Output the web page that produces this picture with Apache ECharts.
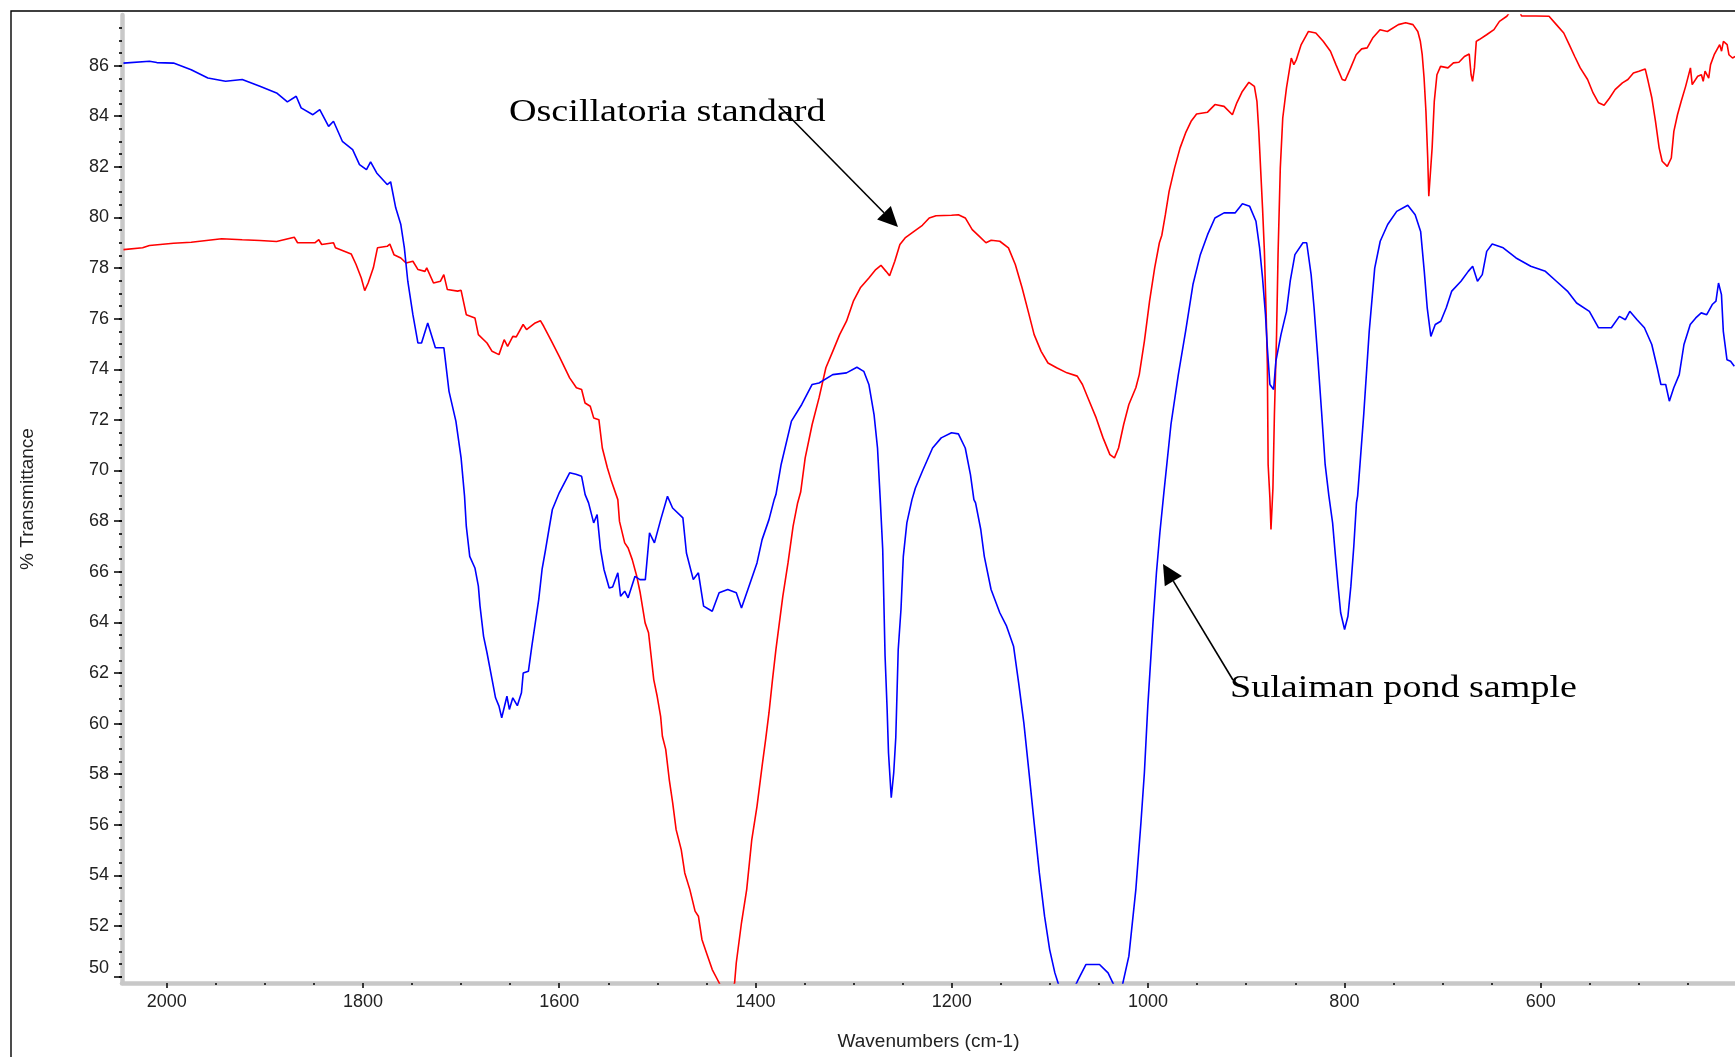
<!DOCTYPE html>
<html>
<head>
<meta charset="utf-8">
<script src="https://cdn.jsdelivr.net/npm/echarts@6/dist/echarts.min.js"></script>
<style>
html,body{margin:0;padding:0;background:#fff;}
#chart{width:1735px;height:1057px;}
</style>
</head>
<body>
<div id="chart"></div>
<script>
// ---- Data (wavenumber cm-1, % transmittance) ----
const redWn = [2044,2024.5,2017.5,1993,1975,1944,1923,1905,1888,1870,1866.6,1849,1845,1842,1830,1828,1812,1807,1801.7,1798.2,1794.7,1789.4,1785.2,1775.3,1772.6,1768.4,1761.4,1756.1,1749.1,1743.9,1736.8,1735,1728.1,1721,1717.6,1714,1703.5,1700,1694.7,1685.9,1682.4,1673.6,1668.4,1661.4,1656.1,1652.6,1647.3,1643.8,1636.8,1633.3,1624.5,1619.2,1615.8,1608.7,1600,1589.4,1582.5,1577.2,1573.7,1568.4,1564.9,1559.6,1556.1,1550.9,1547.3,1540.3,1538.6,1533.3,1529.8,1525.6,1521,1517.5,1512.5,1509,1503.7,1500.2,1496.7,1494.9,1491.5,1487.9,1484.4,1480.9,1475.7,1472.1,1466.9,1461.6,1458.2,1454.6,1449.4,1444.1,1437.1,1432,1425,1421.3,1419.6,1414.3,1409,1403.8,1398.5,1393.3,1389.7,1386.3,1382.7,1379.2,1375.7,1372.2,1366.9,1361.7,1357.1,1354,1349.4,1342.3,1335.3,1328.3,1321.3,1314.3,1307.3,1300.3,1293.2,1284.5,1277.5,1272.2,1267,1263.4,1258.1,1252.9,1247.6,1240.6,1230,1223,1216.1,1200.3,1193.3,1186.3,1179.2,1172.2,1165.2,1159.9,1151.1,1142.3,1135.3,1128.4,1121.3,1116.1,1109,1102,1093.2,1082.7,1072.2,1066.9,1059.9,1052.9,1045.9,1038.9,1034.3,1030.1,1024.9,1019.6,1012.5,1009,1003.8,998.5,993.3,988.5,986,982.4,978.6,973,967.4,961.8,956.2,950.6,939.4,931.9,922.6,914.1,909.6,904,897.3,891.7,889.1,887.2,885.4,883.4,881.5,879.7,878.5,877.7,875.9,874.8,872.8,871.3,869.1,867.6,865.3,862.8,859,854.1,851.5,848.9,844,836.6,829.1,821.6,814.2,808.6,802.2,799.2,793.6,788,782.4,776.8,771.2,763.7,756.2,745,737.6,730.1,725.2,722.6,720.7,718.8,716.9,715.1,714,712.1,710.6,708.4,705.7,702,694.5,688.9,683.3,677.7,672.8,670.9,669.4,667.5,665.6,662.6,655.1,647.6,642,634.5,628,622,619.5,605,591.5,584,576.5,570.9,565.3,559.7,552.2,546.6,541,535.4,529.8,524.2,516.7,511.1,505.5,499.9,493.5,490.5,486.7,483,479.3,476.2,471,466.9,464.3,460.6,456.8,452.3,447.4,445.6,440,436.2,434.4,432.5,428.8,426.9,423.2,417.6,415.7,413.8,410,408.2,404.5,401.8];
const redT = [78.73,78.80,78.89,78.98,79.02,79.16,79.12,79.09,79.05,79.22,79.00,79.00,79.12,78.93,79.00,78.80,78.56,78.14,77.61,77.11,77.41,78.01,78.80,78.86,78.95,78.53,78.40,78.20,78.27,77.94,77.87,78.01,77.41,77.48,77.74,77.15,77.09,77.12,76.16,76.03,75.37,75.04,74.71,74.58,75.17,74.91,75.30,75.28,75.77,75.57,75.83,75.92,75.70,75.17,74.51,73.66,73.27,73.20,72.67,72.54,72.08,72.01,70.89,70.10,69.64,68.85,67.99,67.14,66.94,66.48,65.82,65.17,63.98,63.59,61.74,61.08,60.29,59.50,58.98,57.79,56.87,55.81,55.02,54.10,53.44,52.59,52.39,51.47,50.88,50.28,49.76,49.30,49.30,49.76,50.55,52.13,53.44,55.42,56.73,58.32,59.37,60.42,61.74,62.93,63.98,65.03,66.35,67.80,68.72,69.15,70.50,71.82,72.87,74.06,74.71,75.37,75.90,76.69,77.22,77.61,77.94,78.11,77.87,77.70,78.27,78.93,79.19,79.39,79.69,79.98,80.07,80.09,80.11,79.98,79.52,79.26,79.00,79.10,79.06,78.80,78.14,77.22,76.16,75.37,74.71,74.25,74.06,73.86,73.73,73.40,72.74,72.08,71.29,70.63,70.50,70.89,71.82,72.61,73.27,73.79,75.10,76.69,78.01,79.00,79.30,80.11,81.03,81.96,82.75,83.34,83.80,84.09,84.16,84.46,84.39,84.06,84.53,84.98,85.34,85.18,84.59,83.40,81.96,80.38,78.66,76.16,74.19,70.24,68.92,67.67,69.31,72.21,75.37,78.53,81.96,83.93,85.12,86.30,86.04,86.24,86.83,87.35,87.29,86.96,86.57,86.04,85.45,85.41,85.91,86.43,86.66,86.70,87.09,87.42,87.35,87.62,87.69,87.62,87.35,86.96,86.43,85.51,84.19,82.35,80.84,80.84,82.75,84.59,85.64,85.97,85.91,86.11,86.13,86.36,86.46,85.64,85.38,85.91,86.96,87.03,87.22,87.42,87.75,87.95,88.30,88.20,87.96,87.96,87.95,87.62,87.29,86.83,86.36,85.91,85.45,84.92,84.53,84.43,84.72,85.05,85.32,85.45,85.71,85.78,85.87,85.38,84.72,83.80,82.75,82.22,82.02,82.35,83.40,84.06,84.59,85.18,85.91,85.25,85.58,85.64,85.38,85.78,85.51,86.04,86.43,86.83,86.57,86.96,86.83,86.43,86.30,86.36];

const blueWn = [2044,2017.5,2010,1993,1975,1958,1940,1923,1905,1888,1877,1868,1863,1851,1844,1835,1830,1821,1810.5,1803.5,1796.4,1792.2,1786,1775.3,1771.8,1766.6,1761.4,1757.8,1754.3,1749.1,1744,1740.3,1734,1726.2,1717.5,1712.3,1705.3,1700,1696.5,1694.7,1691.2,1685.9,1682.4,1680.7,1677.1,1673.6,1668.4,1664.9,1661.4,1658.6,1653.3,1650.8,1647.3,1642.7,1638.5,1636.7,1631.4,1627.9,1624.4,1620.9,1617.5,1613.9,1610.5,1607,1600,1589.4,1583,1577.2,1573.6,1570.1,1564.9,1561.4,1557.9,1554.4,1549.1,1545.6,1540.3,1537.5,1533.3,1529.8,1522.8,1517.8,1512.3,1508,1503,1496.6,1489.7,1484.5,1474,1470.4,1463.4,1458.2,1452.9,1444.1,1437.1,1428.3,1419.6,1414.3,1405.5,1398.5,1393.3,1386.3,1381,1379.2,1373.9,1363.4,1352.9,1342.3,1335.3,1321.3,1307.3,1296.7,1289.7,1284.5,1279.2,1275.7,1272.9,1270.4,1268,1265.9,1264.5,1261.7,1259.2,1257.1,1254.6,1251.8,1249.4,1245.8,1240.6,1237.1,1230,1219.6,1210.8,1200.3,1193.3,1186.3,1181,1177.5,1175.8,1170.5,1166.9,1160,1151.1,1144.2,1137.1,1131.9,1126.6,1121.3,1116.1,1110.8,1105.5,1100.3,1095,1088,1082,1076,1072,1063.4,1049.5,1040.8,1034,1030,1026,1019.6,1012.5,1007.3,1003.8,1000.3,995,991.5,988,984,976.7,969.2,961.8,954.3,946.8,939.4,931.9,922.6,911.4,903.9,896.5,890.1,886.4,883.4,880.4,878.5,875.9,872.1,869.8,864.6,859,855.2,850.4,842.2,838.4,833.9,830.9,827.1,823.3,819.6,815.8,812,809.1,806.4,803.8,799.8,796.4,793.4,790.4,787.7,786.5,780.3,774.7,769.1,763.5,755.9,746.7,735.4,727.9,722.3,718.6,715.6,711.9,707.4,701.8,696.2,690.6,681.2,673.8,669.3,664.4,659.5,655,649.4,638.2,625.1,610.1,595.2,584,572.8,563.4,550.4,541,528,519.8,513.7,509.2,501.8,494.3,486.8,481.2,477.5,472.6,468.9,464.4,458.8,454,447.6,442,436.4,430.8,425.2,421.4,418.8,415.8,413.9,410.2,406.5,402.7];
const blueT = [86.10,86.17,86.12,86.10,85.84,85.51,85.38,85.45,85.18,84.92,84.57,84.79,84.33,84.06,84.26,83.60,83.80,83.01,82.68,82.09,81.89,82.20,81.76,81.30,81.41,80.38,79.72,78.80,77.48,76.16,75.04,75.04,75.83,74.85,74.85,73.13,71.95,70.50,69.00,67.80,66.61,66.15,65.43,64.64,63.45,62.80,61.74,61.02,60.69,60.23,61.08,60.56,61.02,60.71,61.22,62.00,62.07,63.06,63.98,64.90,66.09,66.88,67.67,68.46,69.12,69.91,69.85,69.77,69.05,68.72,67.93,68.26,66.88,66.09,65.36,65.40,65.96,65.03,65.23,64.97,65.82,65.69,65.69,67.54,67.14,68.06,68.98,68.52,68.13,66.74,65.69,65.96,64.64,64.44,65.17,65.30,65.17,64.57,65.56,66.35,67.27,68.06,68.85,69.05,70.24,71.95,72.61,73.40,73.46,73.79,73.86,74.08,73.92,73.40,72.20,70.89,68.85,66.88,62.67,60.56,58.84,57.07,58.05,59.44,62.93,64.51,66.61,67.93,68.85,69.31,69.97,70.89,71.29,71.49,71.45,70.89,69.84,68.85,68.72,67.67,66.61,65.30,64.38,63.85,63.06,61.61,60.03,58.05,56.08,54.10,52.39,51.07,50.15,49.30,49.20,49.50,49.82,50.48,50.48,50.15,49.60,49.50,49.70,50.81,53.44,56.08,58.05,60.69,63.98,65.96,67.54,69.10,71.82,73.79,75.50,77.35,78.53,79.32,79.98,80.18,80.18,80.54,80.44,79.85,78.80,77.61,76.16,74.85,73.40,73.20,74.32,75.37,76.29,77.48,78.53,79.00,79.00,77.74,76.43,74.45,72.35,70.24,69.00,67.93,66.61,65.43,64.38,63.72,64.24,65.43,67.01,68.72,69.00,72.21,75.50,78.00,79.06,79.72,80.24,80.48,80.11,79.45,77.87,76.43,75.30,75.77,75.90,76.43,77.09,77.48,77.87,78.07,77.48,77.74,78.66,78.95,78.80,78.40,78.07,77.87,77.48,77.09,76.62,76.29,75.64,75.64,76.09,75.96,76.29,75.96,75.64,74.98,74.06,73.40,73.40,72.74,73.27,73.79,74.98,75.77,76.03,76.23,76.16,76.56,76.69,77.41,76.95,75.50,74.38,74.32,74.12];

const xMajorTicks = [2000, 1800, 1600, 1400, 1200, 1000, 800, 600];
const yMajorTicks = [50, 52, 54, 56, 58, 60, 62, 64, 66, 68, 70, 72, 74, 76, 78, 80, 82, 84, 86];
const xMinorTicks = [];
for (let v = 450; v <= 2000; v += 50) xMinorTicks.push(v);
const yMinorTicks = [];
for (let v = 50; v <= 87.5; v += 0.5) yMinorTicks.push(v);

const seriesNames = ['Oscillatoria standard', 'Sulaiman pond sample'];

function zip(a, b) { return a.map((v, i) => [v, b[i]]); }

const SANS = '"Liberation Sans", Arial, sans-serif';
const SERIF = '"Liberation Serif", "Times New Roman", serif';
const X_MIN = 402, X_MAX = 2045.5, Y_MIN = 49.75, Y_MAX = 88;

function arrow(x1, y1, x2, y2, len, half) {
  const dx = x2 - x1, dy = y2 - y1, L = Math.sqrt(dx * dx + dy * dy);
  const ux = dx / L, uy = dy / L;
  const bx = x2 - ux * len, by = y2 - uy * len;
  const px = -uy, py = ux;
  return [
    { type: 'line', shape: { x1: x1, y1: y1, x2: bx, y2: by }, style: { stroke: '#000', lineWidth: 1.6 }, z: 100 },
    { type: 'polygon', shape: { points: [[x2, y2], [bx + px * half, by + py * half], [bx - px * half, by - py * half]] }, style: { fill: '#000' }, z: 100 }
  ];
}

const chart = echarts.init(document.getElementById('chart'), null, { renderer: 'canvas' });

const option = {
  animation: false,
  backgroundColor: '#ffffff',
  grid: { left: 122, right: 0, top: 15, bottom: 74, containLabel: false },
  xAxis: [
    {
      type: 'value', inverse: true, min: X_MIN, max: X_MAX, position: 'bottom',
      name: 'Wavenumbers (cm-1)', nameLocation: 'middle', nameGap: 49,
      nameTextStyle: { fontSize: 19, color: '#222', fontFamily: SANS },
      axisLine: { show: true, onZero: false, lineStyle: { color: '#c8c8c8', width: 4.5 } },
      axisTick: { show: true, customValues: xMajorTicks, length: 5, lineStyle: { color: '#000', width: 1.5 } },
      axisLabel: { show: true, customValues: xMajorTicks, margin: 10, fontSize: 18, color: '#222', fontFamily: SANS, formatter: function (v) { return String(v); } },
      splitLine: { show: false }
    },
    {
      type: 'value', inverse: true, min: X_MIN, max: X_MAX, position: 'bottom',
      axisLine: { show: false },
      axisTick: { show: true, customValues: xMinorTicks, length: 2, lineStyle: { color: '#000', width: 1.5 } },
      axisLabel: { show: false },
      splitLine: { show: false }
    }
  ],
  yAxis: [
    {
      type: 'value', min: Y_MIN, max: Y_MAX, position: 'left',
      name: '% Transmittance', nameLocation: 'middle', nameGap: 85, nameRotate: 90,
      nameTextStyle: { fontSize: 19, color: '#222', fontFamily: SANS },
      axisLine: { show: true, onZero: false, lineStyle: { color: '#c8c8c8', width: 4.5 } },
      axisTick: { show: true, customValues: yMajorTicks, length: 8, lineStyle: { color: '#000', width: 1.5 } },
      axisLabel: { show: true, customValues: yMajorTicks, margin: 13, fontSize: 18, color: '#222', fontFamily: SANS, verticalAlignMinLabel: 'bottom', formatter: function (v) { return String(v); } },
      splitLine: { show: false }
    },
    {
      type: 'value', min: Y_MIN, max: Y_MAX, position: 'left',
      axisLine: { show: false },
      axisTick: { show: true, customValues: yMinorTicks, length: 3, lineStyle: { color: '#000', width: 1.6 } },
      axisLabel: { show: false },
      splitLine: { show: false }
    }
  ],
  series: [
    {
      name: seriesNames[0], type: 'line', xAxisIndex: 0, yAxisIndex: 0,
      data: zip(redWn, redT), symbol: 'none', showSymbol: false, clip: true,
      lineStyle: { color: '#ff0000', width: 1.6 }, itemStyle: { color: '#ff0000' }
    },
    {
      name: seriesNames[1], type: 'line', xAxisIndex: 0, yAxisIndex: 0,
      data: zip(blueWn, blueT), symbol: 'none', showSymbol: false, clip: true,
      lineStyle: { color: '#0000ff', width: 1.6 }, itemStyle: { color: '#0000ff' }
    }
  ],
  graphic: [
    { type: 'rect', shape: { x: 11, y: 11, width: 2000, height: 2000 }, style: { fill: 'none', stroke: '#000', lineWidth: 1.4 }, silent: true, z: 90 },
    { type: 'text', x: 509, y: 113, scaleX: 1.23, style: { text: seriesNames[0], fontSize: 31, fontFamily: SERIF, fill: '#000', align: 'left', verticalAlign: 'middle' }, z: 100 },
    { type: 'text', x: 1230, y: 689, scaleX: 1.19, style: { text: seriesNames[1], fontSize: 32, fontFamily: SERIF, fill: '#000', align: 'left', verticalAlign: 'middle' }, z: 100 }
  ].concat(arrow(779, 106, 898, 227, 20, 9.6)).concat(arrow(1233, 680, 1163, 564, 20, 10))
};

chart.setOption(option);
</script>
</body>
</html>
